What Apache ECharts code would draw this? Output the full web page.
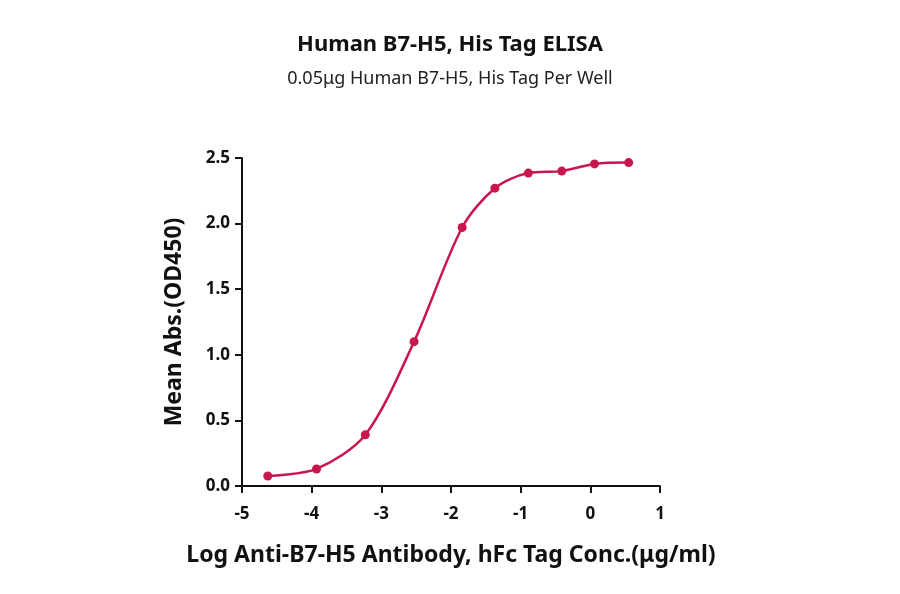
<!DOCTYPE html>
<html><head><meta charset="utf-8">
<script src="https://cdn.jsdelivr.net/npm/echarts@6/dist/echarts.min.js"></script>
<style>html,body{margin:0;background:#fff}#c{width:900px;height:594px}</style>
</head><body><div id="c"></div>
<script>
// log concentration and mean absorbance
const logConc = [-4.63, -3.93, -3.23, -2.53, -1.84, -1.37, -0.89, -0.41, 0.06, 0.55];
const meanAbs = [0.076, 0.130, 0.39, 1.10, 1.97, 2.27, 2.385, 2.40, 2.455, 2.465];
const lineColor = '#C8174C';

const points = logConc.map((x, i) => [x, meanAbs[i]]);
const chart = echarts.init(document.getElementById('c'));
chart.setOption({
    animation: false,
    title: {
        text: 'Human B7-H5, His Tag ELISA',
        subtext: '0.05μg Human B7-H5, His Tag Per Well',
        left: 'center', top: 29, itemGap: 14,
        textStyle: { fontFamily: 'Noto Sans', fontSize: 22, fontWeight: 'bold', color: '#111' },
        subtextStyle: { fontFamily: 'Noto Sans', fontSize: 18, color: '#222' }
    },
    grid: { left: 242, right: 240, top: 158, bottom: 108 },
    xAxis: {
        type: 'value', min: -5, max: 1, interval: 1,
        name: 'Log Anti-B7-H5 Antibody, hFc Tag Conc.(μg/ml)',
        nameLocation: 'middle', nameGap: 58,
        nameTextStyle: { fontFamily: 'Noto Sans', fontSize: 23, fontWeight: 'bold', color: '#111' },
        axisLine: { onZero: false, lineStyle: { color: '#111', width: 2 } },
        axisTick: { show: true, length: 7, lineStyle: { width: 2 } },
        axisLabel: { fontFamily: 'Noto Sans', fontSize: 17, fontWeight: 'bold', color: '#111', margin: 20 },
        splitLine: { show: false }
    },
    yAxis: {
        type: 'value', min: 0, max: 2.5, interval: 0.5,
        name: 'Mean Abs.(OD450)',
        nameLocation: 'middle', nameGap: 56,
        nameTextStyle: { fontFamily: 'Noto Sans', fontSize: 23, fontWeight: 'bold', color: '#111' },
        axisLine: { show: true, onZero: false, lineStyle: { color: '#111', width: 2 } },
        axisTick: { show: true, length: 7, lineStyle: { width: 2 } },
        axisLabel: { fontFamily: 'Noto Sans', fontSize: 17, fontWeight: 'bold', color: '#111', margin: 12,
            formatter: v => v.toFixed(1) },
        splitLine: { show: false }
    },
    series: [{
        type: 'line', data: points, smooth: 0.3,
        symbol: 'circle', symbolSize: 9,
        lineStyle: { color: lineColor, width: 2.5 },
        itemStyle: { color: lineColor }
    }]
});
</script></body></html>
